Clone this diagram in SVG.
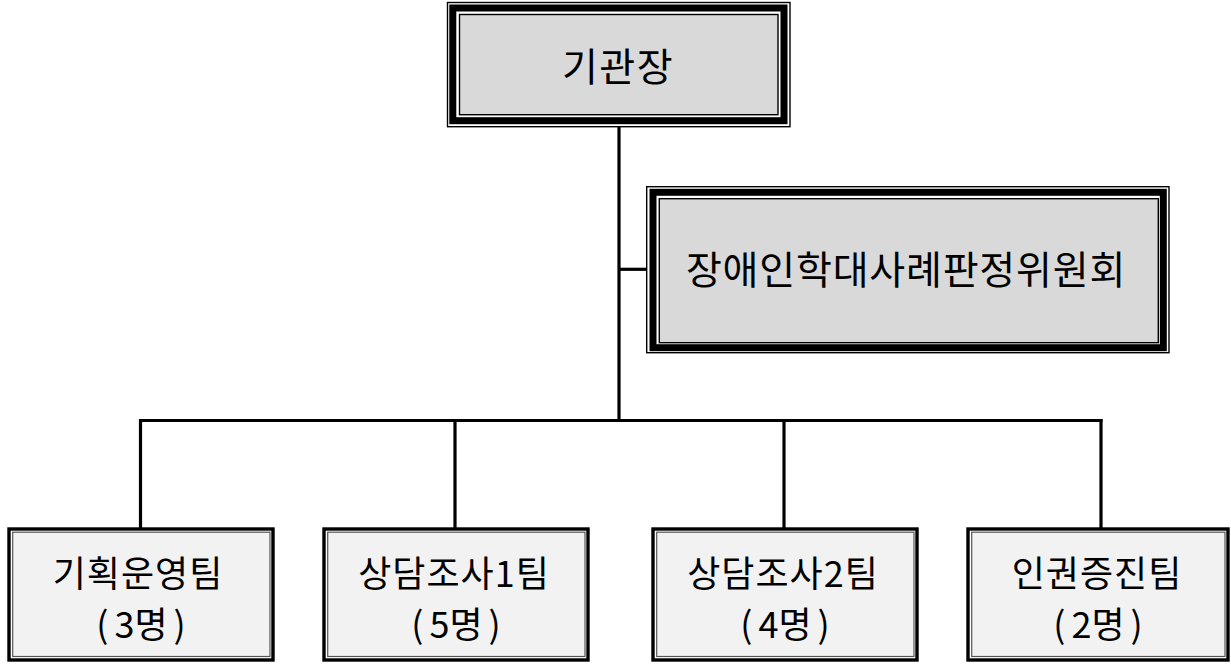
<svg xmlns="http://www.w3.org/2000/svg" width="1231" height="665" viewBox="0 0 1231 665">
<style>
.bg{fill:#ffffff}
.thin{fill:none;stroke:#000;stroke-width:1.4}
.thick{fill:none;stroke:#000;stroke-width:7}
.inner{fill:#d9d9d9;stroke:#000;stroke-width:1.4}
.bthick{fill:none;stroke:#000;stroke-width:3.4}
.binner{fill:#f2f2f2;stroke:#555;stroke-width:1.2}
.conn{fill:none;stroke:#000;stroke-width:3.2}
text{font-family:"Noto Sans CJK KR","Noto Sans",sans-serif;fill:#000;text-anchor:middle}
.t1{font-size:39px;letter-spacing:1.5px}
.t2{font-size:39px;letter-spacing:0.8px}
.t3{font-size:36px;letter-spacing:1px}
.t4{font-size:36px}
</style>
<rect class="bg" x="0" y="0" width="1231" height="665"/>
<g id="connectors">
<line class="conn" x1="619" y1="126" x2="619" y2="420.5"/>
<line class="conn" x1="619" y1="269.3" x2="647" y2="269.3"/>
<line class="conn" x1="139" y1="420.5" x2="1102.5" y2="420.5"/>
<line class="conn" x1="140.5" y1="419" x2="140.5" y2="528"/>
<line class="conn" x1="455" y1="419" x2="455" y2="528"/>
<line class="conn" x1="784" y1="419" x2="784" y2="528"/>
<line class="conn" x1="1101" y1="419" x2="1101" y2="528"/>
</g>
<g id="node-head">
<rect class="thin" x="447.5" y="2.5" width="342.5" height="124.2"/>
<rect class="thick" x="452.8" y="8" width="331.2" height="112.7"/>
<rect class="inner" x="459.5" y="14.5" width="318.5" height="100.2"/>
<text class="t1" x="618" y="81">기관장</text>
</g>
<g id="node-committee">
<rect class="thin" x="646.7" y="186.7" width="522.3" height="166"/>
<rect class="thick" x="653" y="192.3" width="510.3" height="155.4"/>
<rect class="inner" x="659.3" y="198.7" width="499" height="144"/>
<text class="t2" x="906" y="284">장애인학대사례판정위원회</text>
</g>
<g id="node-team1">
<rect class="bthick" x="9" y="529" width="264" height="131"/>
<rect class="binner" x="12.7" y="532.2" width="257.3" height="124.3"/>
<text class="t3" x="138" y="587">기획운영팀</text>
<text class="t4" x="141" y="638">(<tspan dx="6">3명</tspan><tspan dx="6">)</tspan></text>
</g>
<g id="node-team2">
<rect class="bthick" x="324" y="529" width="264" height="131"/>
<rect class="binner" x="327.7" y="532.2" width="257.3" height="124.3"/>
<text class="t3" x="454" y="587">상담조사1팀</text>
<text class="t4" x="456" y="638">(<tspan dx="6">5명</tspan><tspan dx="6">)</tspan></text>
</g>
<g id="node-team3">
<rect class="bthick" x="653" y="529" width="264" height="131"/>
<rect class="binner" x="656.7" y="532.2" width="257.3" height="124.3"/>
<text class="t3" x="783" y="587">상담조사2팀</text>
<text class="t4" x="785" y="638">(<tspan dx="6">4명</tspan><tspan dx="6">)</tspan></text>
</g>
<g id="node-team4">
<rect class="bthick" x="968" y="529" width="260" height="131"/>
<rect class="binner" x="971.7" y="532.2" width="253.3" height="124.3"/>
<text class="t3" x="1097" y="587">인권증진팀</text>
<text class="t4" x="1098" y="638">(<tspan dx="6">2명</tspan><tspan dx="6">)</tspan></text>
</g>
</svg>
